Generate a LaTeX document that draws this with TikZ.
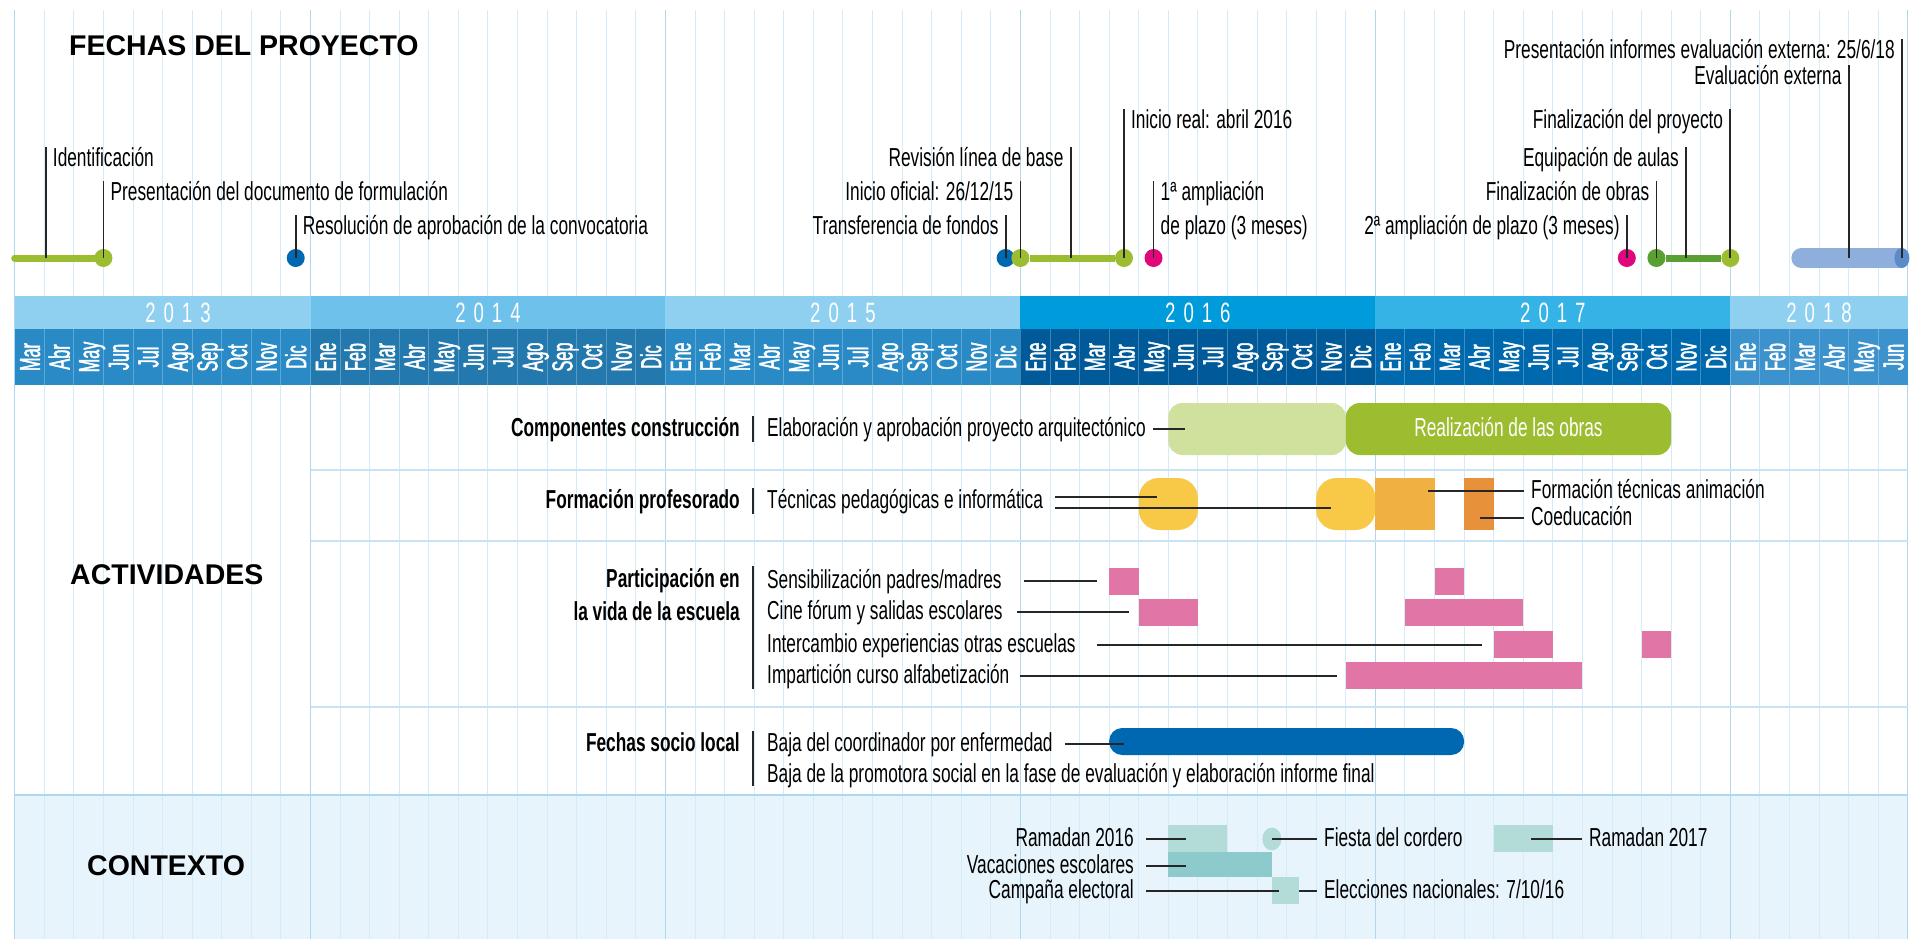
\documentclass[tikz,border=0pt]{standalone}
\usepackage{fontspec}
\setmainfont{Liberation Sans}
\newfontfamily\condfont[FakeStretch=0.665]{Liberation Sans}
\newfontfamily\monfont[FakeStretch=0.56, FakeBold=1.5]{Liberation Sans}
\usetikzlibrary{positioning,shapes.geometric}

\definecolor{gridln}{HTML}{D6EBF8}
\definecolor{gridyr}{HTML}{AFD8F0}
\definecolor{ctxbg}{HTML}{E7F4FB}
\definecolor{yrA}{HTML}{8FD0F0}
\definecolor{yrB}{HTML}{6DC1EA}
\definecolor{yrC}{HTML}{009BDB}
\definecolor{yrD}{HTML}{35B3E6}
\definecolor{monA}{HTML}{2A8AC6}
\definecolor{monB}{HTML}{2378AD}
\definecolor{monC}{HTML}{005A99}
\definecolor{monD}{HTML}{0068AD}
\definecolor{monE}{HTML}{3B92CD}
\definecolor{mgreen}{HTML}{9CBD30}
\definecolor{lgreen}{HTML}{D0E09D}
\definecolor{dgreen}{HTML}{5A9F32}
\definecolor{mblue}{HTML}{0068B0}
\definecolor{magenta}{HTML}{E0067B}
\definecolor{steel}{HTML}{8EAEDB}
\definecolor{steeldk}{HTML}{5B8CC9}
\definecolor{yellow}{HTML}{F7C947}
\definecolor{orangeA}{HTML}{F0B042}
\definecolor{orangeB}{HTML}{E8913B}
\definecolor{pink}{HTML}{E075A6}
\definecolor{tealA}{HTML}{B3DCD9}
\definecolor{tealB}{HTML}{8CCACB}

% month index (0 = Mar 2013) to x position
\newcommand{\mx}[1]{14.7+29.58*(#1)}
\newcommand{\spaced}[4]{#1\kern8pt#2\kern8pt#3\kern8pt#4}
\def\yrmonths{Ene,Feb,Mar,Abr,May,Jun,Jul,Ago,Sep,Oct,Nov,Dic}
\edef\monthlist{Mar,Abr,May,Jun,Jul,Ago,Sep,Oct,Nov,Dic,\yrmonths,\yrmonths,\yrmonths,\yrmonths,Ene,Feb,Mar,Abr,May,Jun}

\begin{document}
\begin{tikzpicture}[x=1pt, y=-1pt,
    lab/.style={font=\condfont\fontsize{26}{30}\selectfont, text height=19pt, text depth=5pt, inner xsep=7pt, inner ysep=0pt},
    blab/.style={lab, font=\condfont\bfseries\fontsize{26}{30}\selectfont},
    wlab/.style={lab, text=white},
    ttl/.style={font=\bfseries\fontsize{28.5}{32}\selectfont, inner sep=0pt, anchor=base west},
    monlab/.style={font=\monfont\fontsize{29}{30}\selectfont, text=white, rotate=90, text height=21pt, text depth=0pt, inner sep=0pt},
    yrlab/.style={font=\condfont\fontsize{28}{30}\selectfont, text=white, text height=20pt, text depth=0pt, inner sep=0pt},
    dot/.style={circle, minimum size=18pt, inner sep=0pt, fill=#1},
    bar/.style={line width=7pt, line cap=round},
    leader/.style={draw=black!85, line width=1.8pt},
    sepbar/.style={draw=black!85, line width=1.3pt}]

    % the frame
    \path[fill=white] (0,0) rectangle (1915,939);
    % context band
    \fill[ctxbg] ({\mx{0}},795) rectangle ({\mx{64}},939);

    % the grid
    \foreach \i in {0,...,64}
        \draw[gridln, line width=1pt] ({\mx{\i}},10) -- ({\mx{\i}},939);
    \foreach \i in {0,10,22,34,46,58,64}
        \draw[gridyr, line width=1.3pt] ({\mx{\i}},10) -- ({\mx{\i}},939);
    \foreach \y in {470,541,707}
        \draw[gridyr!70, line width=1.3pt] ({\mx{10}},\y) -- ({\mx{64}},\y);
    \draw[gridyr, line width=1.5pt] ({\mx{0}},795) -- ({\mx{64}},795);

    % years and months
    \foreach \a/\b/\cy/\cm in {0/10/yrA/monA, 10/22/yrB/monB, 22/34/yrA/monA, 34/46/yrC/monC, 46/58/yrD/monD, 58/64/yrA/monE} {
        \fill[\cy] ({\mx{\a}},296) rectangle ({\mx{\b}},329);
        \fill[\cm] ({\mx{\a}},329) rectangle ({\mx{\b}},385);
    }
    \foreach \i in {1,...,63}
        \draw[white, opacity=0.25, line width=1pt] ({\mx{\i}},329) -- ({\mx{\i}},385);
    \foreach \mname [count=\i from 0] in \monthlist
        \node[monlab] (mon\i) at ({\mx{\i+0.5}},357) {\mname};
    \node[yrlab] (y13) at (178,312.5) {\spaced2013};
    \node[yrlab] (y14) at ({\mx{16}},312.5) {\spaced2014};
    \node[yrlab] (y15) at ({\mx{28}},312.5) {\spaced2015};
    \node[yrlab] (y16) at ({\mx{40}},312.5) {\spaced2016};
    \node[yrlab] (y17) at ({\mx{52}},312.5) {\spaced2017};
    \node[yrlab] (y18) at ({\mx{61}},312.5) {\spaced2018};

    % titles
    \node[ttl] (tfechas) at (69,55) {FECHAS DEL PROYECTO};
    \node[ttl] (tact) at (70,584) {ACTIVIDADES};
    \node[ttl] (tctx) at (87,875) {CONTEXTO};

    % project dates
    \coordinate (idS) at ({\mx{0}},258);
    \coordinate (idP) at ({\mx{1.05}},258);
    \coordinate (revP) at ({\mx{35.7}},258);
    \coordinate (equP) at ({\mx{56.5}},258);
    \coordinate (evS) at ({\mx{60.4}},258);
    \coordinate (evE) at ({\mx{63.7}},258);
    \coordinate (evP) at ({\mx{62}},258);
    \node[dot=mgreen] (pres) at ({\mx{3}},258) {};
    \node[dot=mblue] (resol) at ({\mx{9.5}},258) {};
    \node[dot=mblue] (transf) at ({\mx{33.5}},258) {};
    \node[dot=mgreen] (inof) at ({\mx{34}},258) {};
    \node[dot=mgreen] (inre) at ({\mx{37.5}},258) {};
    \node[dot=magenta] (amp1) at ({\mx{38.5}},258) {};
    \node[dot=magenta] (amp2) at ({\mx{54.5}},258) {};
    \node[dot=dgreen] (fobras) at ({\mx{55.5}},258) {};
    \node[dot=mgreen] (fproy) at ({\mx{58}},258) {};
    \draw[bar, mgreen] (idS) -- (pres);
    \draw[bar, mgreen, line cap=butt] (inof) -- (inre);
    \draw[bar, dgreen, line cap=butt] (fobras) -- (fproy);
    \draw[steel, line width=20pt, line cap=round] (evS) -- (evE);
    \node[ellipse, fill=steeldk, minimum width=15pt, minimum height=20pt, inner sep=0pt] (pinf) at ({\mx{63.8}},258) {};

    % labels
    \node[lab, anchor=north west] (lid) at ({\mx{1.05}},147) {Identificación};
    \node[lab, anchor=north west] (lpres) at ({\mx{3}},181) {Presentación del documento de formulación};
    \node[lab, anchor=north west] (lresol) at ({\mx{9.5}},215) {Resolución de aprobación de la convocatoria};
    \node[lab, anchor=north east] (ltransf) at ({\mx{33.5}},215) {Transferencia de fondos};
    \node[lab, anchor=north east] (linof) at ({\mx{34}},181) {Inicio oficial: 26/12/15};
    \node[lab, anchor=north east] (lrev) at ({\mx{35.7}},147) {Revisión línea de base};
    \node[lab, anchor=north west] (linre) at ({\mx{37.5}},109) {Inicio real: abril 2016};
    \node[lab, anchor=north west] (lamp1) at ({\mx{38.5}},181) {1ª ampliación};
    \node[lab, below=10pt of lamp1.south west, anchor=north west] (lamp1b) {de plazo (3 meses)};
    \node[lab, anchor=north east] (lamp2) at ({\mx{54.5}},215) {2ª ampliación de plazo (3 meses)};
    \node[lab, anchor=north east] (lfobras) at ({\mx{55.5}},181) {Finalización de obras};
    \node[lab, anchor=north east] (lequ) at ({\mx{56.5}},147) {Equipación de aulas};
    \node[lab, anchor=north east] (lfproy) at ({\mx{58}},109) {Finalización del proyecto};
    \node[lab, anchor=north east] (lev) at ({\mx{62}},65) {Evaluación externa};
    \node[lab, anchor=north east] (lpinf) at ({\mx{63.8}},39) {Presentación informes evaluación externa: 25/6/18};
    \draw[leader] (lid.north west) -- (idP);
    \draw[leader] (lpres.north west) -- (pres.center);
    \draw[leader] (lresol.north west) -- (resol.center);
    \draw[leader] (ltransf.north east) -- (transf.center);
    \draw[leader] (linof.north east) -- (inof.center);
    \draw[leader] (lrev.north east) -- (revP);
    \draw[leader] (linre.north west) -- (inre.center);
    \draw[leader] (lamp1.north west) -- (amp1.center);
    \draw[leader] (lamp2.north east) -- (amp2.center);
    \draw[leader] (lfobras.north east) -- (fobras.center);
    \draw[leader] (lequ.north east) -- (equP);
    \draw[leader] (lfproy.north east) -- (fproy.center);
    \draw[leader] (lev.north east) -- (evP);
    \draw[leader] (lpinf.north east) -- (pinf.center);

    % activities: bars
    \fill[lgreen, rounded corners=14pt] ({\mx{39}},403) rectangle ({\mx{45}},455);
    \fill[mgreen, rounded corners=14pt] ({\mx{45}},403) rectangle ({\mx{56}},455);
    \node[wlab] (obras) at ({\mx{50.5}},429) {Realización de las obras};
    \fill[yellow, rounded corners=20pt] ({\mx{38}},478) rectangle ({\mx{40}},530);
    \fill[yellow, rounded corners=20pt] ({\mx{44}},478) rectangle ({\mx{46}},530);
    \fill[orangeA] ({\mx{46}},478) rectangle ({\mx{48}},530);
    \fill[orangeB] ({\mx{49}},478) rectangle ({\mx{50}},530);
    \fill[pink] ({\mx{37}},568) rectangle ({\mx{38}},595);
    \fill[pink] ({\mx{48}},568) rectangle ({\mx{49}},595);
    \fill[pink] ({\mx{38}},599) rectangle ({\mx{40}},626);
    \fill[pink] ({\mx{47}},599) rectangle ({\mx{51}},626);
    \fill[pink] ({\mx{50}},631) rectangle ({\mx{52}},658);
    \fill[pink] ({\mx{55}},631) rectangle ({\mx{56}},658);
    \fill[pink] ({\mx{45}},662) rectangle ({\mx{53}},689);
    \fill[mblue, rounded corners=13pt] ({\mx{37}},728) rectangle ({\mx{49}},755);

    % activities: labels
    \node[blab, anchor=east] (comp) at (747,429) {Componentes construcción};
    \node[lab, anchor=west] (elab) at (760,429) {Elaboración y aprobación proyecto arquitectónico};
    \node[blab, anchor=east] (form) at (747,501) {Formación profesorado};
    \node[lab, anchor=west] (tecn) at (760,501) {Técnicas pedagógicas e informática};
    \node[lab, anchor=west] (fta) at (1524,491) {Formación técnicas animación};
    \node[lab, anchor=west] (coed) at (1524,518) {Coeducación};
    \node[blab, anchor=east] (part) at (747,580) {Participación en};
    \node[blab, anchor=east] (partb) at (747,613) {la vida de la escuela};
    \node[lab, anchor=west] (sens) at (760,581) {Sensibilización padres/madres};
    \node[lab, anchor=west] (cine) at (760,612) {Cine fórum y salidas escolares};
    \node[lab, anchor=west] (inter) at (760,645) {Intercambio experiencias otras escuelas};
    \node[lab, anchor=west] (impar) at (760,676) {Impartición curso alfabetización};
    \node[blab, anchor=east] (socio) at (747,744) {Fechas socio local};
    \node[lab, anchor=west] (baja) at (760,744) {Baja del coordinador por enfermedad};
    \node[lab, anchor=west] (bajab) at (760,775) {Baja de la promotora social en la fase de evaluación y elaboración informe final};
    \draw[sepbar] (753,416) -- (753,442);
    \draw[sepbar] (753,488) -- (753,514);
    \draw[sepbar] (753,566) -- (753,689);
    \draw[sepbar] (753,731) -- (753,786);

    % activities: leaders
    \coordinate (elabE) at (1185,429);
    \coordinate (tecnE) at (1157,497);
    \coordinate (tecnF) at (1331,508);
    \coordinate (ftaS) at (1428,491);
    \coordinate (coedS) at (1480,518);
    \coordinate (sensE) at (1097,581);
    \coordinate (cineE) at (1129,612);
    \coordinate (interE) at (1482,645);
    \coordinate (imparE) at (1337,676);
    \coordinate (bajaE) at (1124,744);
    \draw[leader] (elab.east) -- (elabE);
    \draw[leader] (tecn.east |- tecnE) ++(5,0) -- (tecnE);
    \draw[leader] (tecn.east |- tecnF) ++(5,0) -- (tecnF);
    \draw[leader] (ftaS) -- (fta.west);
    \draw[leader] (coedS) -- (coed.west);
    \draw[leader] (sens.east) ++(15,0) -- (sensE);
    \draw[leader] (cine.east) ++(7,0) -- (cineE);
    \draw[leader] (inter.east) ++(14,0) -- (interE);
    \draw[leader] (impar.east) ++(3,0) -- (imparE);
    \draw[leader] (baja.east) ++(5,0) -- (bajaE);

    % context
    \fill[tealA] ({\mx{39}},825) rectangle ({\mx{41}},852);
    \fill[tealB] ({\mx{39}},852) rectangle ({\mx{42.5}},877);
    \fill[tealA] ({\mx{42.5}},877) rectangle ({\mx{43.43}},904);
    \fill[tealA] ({\mx{50}},825) rectangle ({\mx{52}},852);
    \node[ellipse, fill=tealA, minimum width=19pt, minimum height=23pt, inner sep=0pt] (fiesta) at ({\mx{42.5}},839) {};
    \node[lab, anchor=east] (ram16) at (1141,839) {Ramadan 2016};
    \node[lab, anchor=west] (cord) at (1317,839) {Fiesta del cordero};
    \node[lab, anchor=west] (ram17) at (1582,839) {Ramadan 2017};
    \node[lab, anchor=east] (vac) at (1141,866) {Vacaciones escolares};
    \node[lab, anchor=east] (camp) at (1141,891) {Campaña electoral};
    \node[lab, anchor=west] (elec) at (1317,891) {Elecciones nacionales: 7/10/16};
    \coordinate (ram16E) at (1186,839);
    \coordinate (ram17S) at (1531,839);
    \coordinate (vacE) at (1186,866);
    \coordinate (campE) at (1279,891);
    \coordinate (campR) at ({\mx{43.43}},891);
    \draw[leader] (ram16.east) ++(5,0) -- (ram16E);
    \draw[leader] (fiesta.center) -- (cord.west);
    \draw[leader] (ram17S) -- (ram17.west);
    \draw[leader] (vac.east) ++(5,0) -- (vacE);
    \draw[leader] (camp.east) ++(5,0) -- (campE);
    \draw[leader] (campR) -- (elec.west);
\end{tikzpicture}
\end{document}
